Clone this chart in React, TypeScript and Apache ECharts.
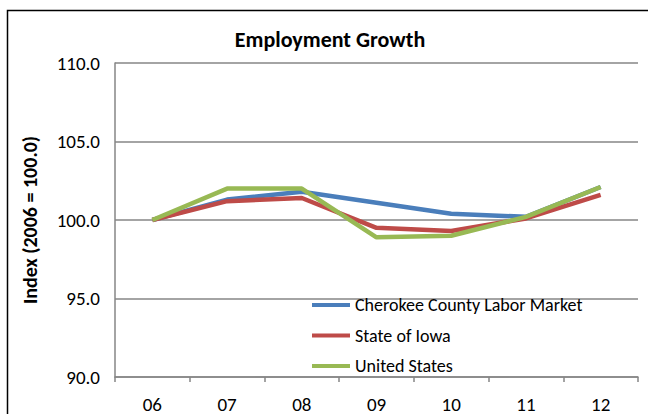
import React, { useEffect, useRef } from "react";
import * as echarts from "echarts";

const categories = ["06", "07", "08", "09", "10", "11", "12"];
const cherokee = [100.0, 101.3, 101.8, 101.1, 100.4, 100.2, 102.1];
const iowa = [100.0, 101.2, 101.4, 99.5, 99.3, 100.1, 101.6];
const us = [100.0, 102.0, 102.0, 98.9, 99.0, 100.2, 102.1];
const seriesNames = ["Cherokee County Labor Market", "State of Iowa", "United States"];
const colors = ["#4A7EBB", "#BE4B48", "#98B954"];

export default function App() {
  const ref = useRef<HTMLDivElement>(null);
  useEffect(() => {
    if (!ref.current) return;
    const chart = echarts.init(ref.current, null, { renderer: "svg" });
    const font = "Carlito, 'Liberation Sans Narrow', 'Open Sans', sans-serif";
    const data = [cherokee, iowa, us];
    chart.setOption({
      animation: false,
      backgroundColor: "#fff",
      title: {
        text: "Employment Growth",
        left: 330,
        textAlign: "center",
        top: 28,
        padding: 0,
        textStyle: { fontFamily: font, fontWeight: "bold", fontSize: 22, color: "#000" },
      },
      grid: { left: 115, right: 10, top: 63, bottom: 37, containLabel: false },
      legend: {
        orient: "vertical",
        left: 312,
        top: 296,
        padding: 0,
        itemGap: 12.5,
        itemWidth: 38,
        itemHeight: 4,
        icon: "rect",
        textStyle: { fontFamily: font, fontSize: 18, lineHeight: 18, color: "#000" },
        data: seriesNames,
      },
      xAxis: {
        type: "category",
        data: categories,
        boundaryGap: true,
        axisLine: { lineStyle: { color: "#868686", width: 1.5 } },
        axisTick: { show: true, length: 5, lineStyle: { color: "#868686", width: 1.5 } },
        axisLabel: { fontFamily: font, fontSize: 19, color: "#000", margin: 18 },
      },
      yAxis: {
        type: "value",
        min: 90,
        max: 110,
        interval: 5,
        name: "Index (2006 = 100.0)",
        nameLocation: "middle",
        nameGap: 75,
        nameTextStyle: { fontFamily: font, fontWeight: "bold", fontSize: 20, color: "#000" },
        axisLine: { show: true, lineStyle: { color: "#868686", width: 1.5 } },
        axisTick: { show: false },
        splitLine: { lineStyle: { color: "#868686", width: 1.5 } },
        axisLabel: {
          fontFamily: font,
          fontSize: 19,
          color: "#000",
          margin: 15,
          formatter: (v: number) => v.toFixed(1),
        },
      },
      graphic: [
        {
          type: "rect",
          left: 5,
          top: 8,
          shape: { width: 700, height: 500 },
          style: { fill: "none", stroke: "#000", lineWidth: 1.5 },
          silent: true,
          z: 100,
        },
      ],
      series: data.map((d, i) => ({
        name: seriesNames[i],
        type: "line",
        data: d,
        symbol: "none",
        lineStyle: { color: colors[i], width: 4.5 },
        itemStyle: { color: colors[i] },
      })),
    });
    return () => chart.dispose();
  }, []);
  return (
    <div
      ref={ref}
      style={{ position: "absolute", left: 0, top: 0, width: 648, height: 414 }}
    />
  );
}
